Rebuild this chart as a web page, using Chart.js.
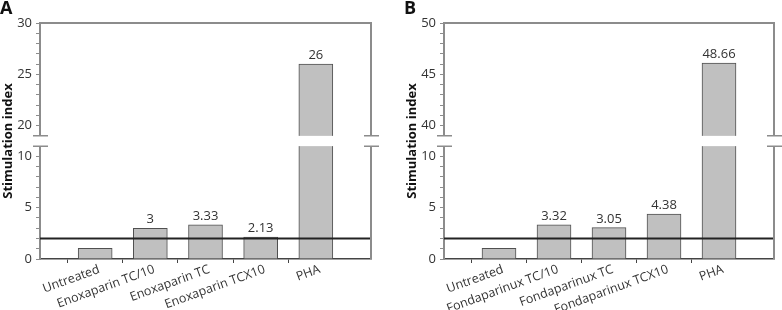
<!DOCTYPE html>
<html>
<head>
<meta charset="utf-8">
<script src="https://cdn.jsdelivr.net/npm/chart.js@4.4.1/dist/chart.umd.min.js"></script>
<style>
  body { margin: 0; background: #fff; }
  #wrap { position: relative; width: 782px; height: 310px; }
  canvas { position: absolute; top: 0; }
</style>
</head>
<body>
<div id="wrap">
  <canvas id="chartA" width="390" height="310" style="left:0"></canvas>
  <canvas id="chartB" width="378" height="310" style="left:404px"></canvas>
</div>
<script>
// panel A - enoxaparin
var labelsA = ['Untreated', 'Enoxaparin TC/10', 'Enoxaparin TC', 'Enoxaparin TCX10', 'PHA'];
var valuesA = [1.05, 3, 3.33, 2.13, 26];
var textsA = ['', '3', '3.33', '2.13', '26'];
var rangeA = { lowMax: 11, highMin: 19, highMax: 30 };

// panel B - fondaparinux
var labelsB = ['Untreated', 'Fondaparinux TC/10', 'Fondaparinux TC', 'Fondaparinux TCX10', 'PHA'];
var valuesB = [1.05, 3.32, 3.05, 4.38, 46.1];
var textsB = ['', '3.32', '3.05', '4.38', '48.66'];
var rangeB = { lowMax: 11, highMin: 39, highMax: 50 };

var refLevel = 2; // horizontal reference line

Chart.defaults.font.family = "'Open Sans', sans-serif";
Chart.defaults.font.size = 13;
Chart.defaults.color = '#333';

var AXIS_GREY = '#8c8c8c';

// white gap + break marks, plus top/right frame
var breakPlugin = {
  id: 'axisBreak',
  afterDraw: function (chart) {
    var ctx = chart.ctx, area = chart.chartArea;
    var r = chart.options.plugins.axisBreak;
    var top = chart.scales.yTop.getPixelForValue(r.highMin);
    var bottom = chart.scales.yBottom.getPixelForValue(r.lowMax);
    ctx.save();
    ctx.strokeStyle = AXIS_GREY;
    ctx.lineWidth = 2;
    ctx.beginPath();
    ctx.moveTo(area.left, area.top);
    ctx.lineTo(area.right, area.top);
    ctx.lineTo(area.right, area.bottom);
    ctx.stroke();
    ctx.fillStyle = '#fff';
    ctx.fillRect(area.left - 8, top, area.right - area.left + 16, bottom - top);
    ctx.lineWidth = 1.5;
    ctx.beginPath();
    [area.left, area.right].forEach(function (x) {
      [top, bottom].forEach(function (y) {
        ctx.moveTo(x - 7, y);
        ctx.lineTo(x + 8, y);
      });
    });
    ctx.stroke();
    ctx.restore();
  }
};

// number above each bar
var valueLabelPlugin = {
  id: 'valueLabels',
  afterDatasetsDraw: function (chart) {
    var texts = chart.options.plugins.valueLabels.texts;
    var lowMeta = chart.getDatasetMeta(0), highMeta = chart.getDatasetMeta(1);
    var highData = chart.data.datasets[1].data;
    var ctx = chart.ctx;
    ctx.save();
    ctx.font = "13px 'Open Sans', sans-serif";
    ctx.fillStyle = '#333';
    ctx.textAlign = 'center';
    ctx.textBaseline = 'bottom';
    texts.forEach(function (t, i) {
      if (!t) return;
      var idx = i + 1;
      var el = highData[idx] ? highMeta.data[idx] : lowMeta.data[idx];
      ctx.fillText(t, el.x, el.y - 2);
    });
    ctx.restore();
  }
};

function makeChart(id, panel, labels, values, texts, range) {
  var cats = [''].concat(labels, ['']);
  var lowData = [null].concat(values.map(function (v) { return Math.min(v, range.lowMax + 0.5); }), [null]);
  var highData = [null].concat(values.map(function (v) { return v > range.highMin ? [range.highMin - 0.5, v] : null; }), [null]);
  var refData = cats.map(function () { return refLevel; });

  var yTicks = {
    stepSize: 1,
    autoSkip: false,
    padding: 4,
    color: '#333',
    callback: function (v) { return Math.abs(v % 5) < 1e-9 ? v : ''; }
  };
  var yGrid = { display: true, drawOnChartArea: false, drawTicks: true, tickLength: 4, color: AXIS_GREY, tickColor: AXIS_GREY };

  return new Chart(document.getElementById(id), {
    type: 'bar',
    data: {
      labels: cats,
      datasets: [
        {
          data: lowData, yAxisID: 'yBottom', order: 1, grouped: false,
          backgroundColor: '#c0c0c0', borderColor: '#505050', borderWidth: 1, barThickness: 34
        },
        {
          data: highData, yAxisID: 'yTop', order: 1, grouped: false,
          backgroundColor: '#c0c0c0', borderColor: '#505050', borderWidth: 1, barThickness: 34
        },
        {
          type: 'line', data: refData, yAxisID: 'yBottom', order: 0,
          borderColor: '#222', borderWidth: 2, pointRadius: 0
        }
      ]
    },
    options: {
      responsive: false,
      animation: false,
      layout: { padding: { left: 0, right: id === 'chartA' ? 19 : 8, top: 0, bottom: 0 } },
      plugins: {
        legend: { display: false },
        tooltip: { enabled: false },
        title: {
          display: true, text: panel, align: 'start', position: 'top',
          font: { size: 18, weight: 'bold', lineHeight: 1 }, color: '#111',
          padding: { top: 0, bottom: 5 }
        },
        subtitle: {
          display: true, text: 'Stimulation index', position: 'left', fullSize: false,
          font: { size: 13, weight: 'bold', lineHeight: 1.2 }, color: '#111', padding: 0
        },
        axisBreak: range,
        valueLabels: { texts: texts }
      },
      scales: {
        x: {
          offset: false,
          grid: {
            display: true, drawOnChartArea: false, drawTicks: true, tickLength: 4,
            tickColor: function (c) { return (c.index === 0 || c.index === cats.length - 1) ? 'rgba(0,0,0,0)' : '#444'; }
          },
          border: { display: true, color: '#444', width: 1.5 },
          ticks: {
            autoSkip: false, minRotation: 20, maxRotation: 20, padding: -1, labelOffset: 4,
            color: '#333', font: { size: 12.5 }
          },
          afterFit: function (s) { s.height = 51; }
        },
        yBottom: {
          type: 'linear', position: 'left', stack: 'y', stackWeight: 1,
          min: 0, max: range.lowMax + 0.5,
          ticks: yTicks, grid: yGrid,
          border: { display: true, color: AXIS_GREY, width: 2 },
          afterFit: function (s) { s.width = 24.4; }
        },
        yTop: {
          type: 'linear', position: 'left', stack: 'y', stackWeight: 1,
          min: range.highMin - 0.5, max: range.highMax,
          ticks: yTicks, grid: yGrid,
          border: { display: true, color: AXIS_GREY, width: 2 },
          afterFit: function (s) { s.width = 24.4; }
        }
      }
    },
    plugins: [breakPlugin, valueLabelPlugin]
  });
}

makeChart('chartA', 'A', labelsA, valuesA, textsA, rangeA);
makeChart('chartB', 'B', labelsB, valuesB, textsB, rangeB);
</script>
</body>
</html>
